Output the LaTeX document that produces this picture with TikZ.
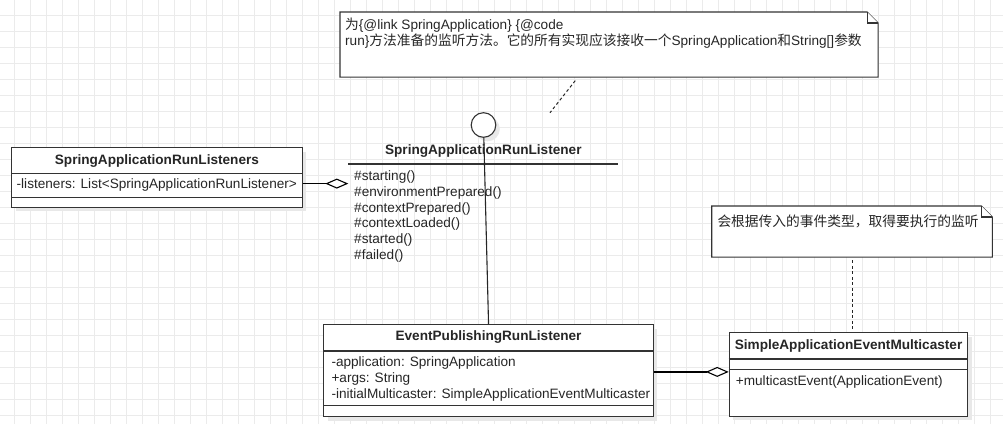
\documentclass[tikz,border=0pt]{standalone}
\usepackage{fontspec}
\setmainfont{Liberation Sans}
\newfontfamily\zhfont[Scale=1.01]{Noto Sans CJK SC}
\usetikzlibrary{positioning, shapes, arrows.meta, shadows}

\begin{document}
\begin{tikzpicture}[x=1pt, y=-1pt,
    every node/.style={text=black!85, inner sep=0pt, font=\fontsize{13.6}{15.8}\selectfont},
    shadowed/.style={drop shadow={shadow xshift=4pt, shadow yshift=-4pt, fill=black!9, draw=none, opacity=1}},
    classbox/.style={draw=black!80, line width=1.1pt, fill=white, anchor=north west, shadowed},
    classname/.style={font=\bfseries\fontsize{13.6}{15.8}\selectfont, anchor=base},
    members/.style={align=left, anchor=north west},
    sepline/.style={draw=black!80, line width=1.1pt},
    notebody/.style={anchor=north west},
    notedraw/.style={draw=black!80, line width=1.1pt, fill=white},
    aggr/.style={draw=black, line width=1.4pt, -{Diamond[fill=white, length=23pt, width=10pt, line width=1.1pt]}},
    notelink/.style={draw=black!85, line width=1pt, dash pattern=on 3pt off 2.5pt}]
    \useasboundingbox (0,0) rectangle (1003,424);
    \fill[white] (0,0) rectangle (1003,424);
    \draw[black!8, line width=1pt, step=16pt, xshift=14pt, yshift=-15pt] (-14,409) grid (989,-15);

    % notes
    \node[notebody, minimum width=537.7pt, minimum height=64.7pt] (nspec) at (340,12) {};
    \draw[notedraw] (nspec.north west) -- ([xshift=-11pt]nspec.north east) -- ([yshift=-11pt]nspec.north east) -- (nspec.south east) -- (nspec.south west) -- cycle;
    \draw[notedraw] ([xshift=-11pt]nspec.north east) |- ([yshift=-11pt]nspec.north east);
    \node[members, below right=5.5pt and 5pt of nspec.north west] (nspectext) {{\zhfont 为}\{@link SpringApplication\} \{@code\\
        run\}{\zhfont 方法准备的监听方法。它的所有实现应该接收一个}SpringApplication{\zhfont 和}String[]{\zhfont 参数}};

    \node[notebody, minimum width=280.3pt, minimum height=50.7pt] (nmulti) at (711.7,206) {};
    \draw[notedraw] (nmulti.north west) -- ([xshift=-11pt]nmulti.north east) -- ([yshift=-11pt]nmulti.north east) -- (nmulti.south east) -- (nmulti.south west) -- cycle;
    \draw[notedraw] ([xshift=-11pt]nmulti.north east) |- ([yshift=-11pt]nmulti.north east);
    \node[members, below right=8.2pt and 5.6pt of nmulti.north west] (nmultitext) {\zhfont 会根据传入的事件类型，取得要执行的监听};

    % interface
    \node[circle, draw=black!80, line width=1.1pt, fill=white, minimum size=24.6pt, shadowed] (srl) at (483.5,125) {};
    \node[classname] (srlname) at (483.3,154.5) {SpringApplicationRunListener};
    \coordinate (srlleft) at (348.3,164);
    \coordinate (srlagg) at (348.3,183.6);
    \coordinate (srltop) at (550,112.7);
    \draw[sepline] (srlleft) -- ++(269.4,0);
    \node[members, below right=6.5pt and 5.7pt of srlleft] (srlops) {\#starting()\\\#environmentPrepared()\\\#contextPrepared()\\\#contextLoaded()\\\#started()\\\#failed()};

    % classes
    \node[classbox, minimum width=290.7pt, minimum height=59.4pt] (lst) at (11,147.3) {};
    \node[classname] (lstname) at ([yshift=-16.8pt]lst.north) {SpringApplicationRunListeners};
    \draw[sepline] ([yshift=-26pt]lst.north west) -- ([yshift=-26pt]lst.north east);
    \draw[sepline] ([yshift=-50.4pt]lst.north west) -- ([yshift=-50.4pt]lst.north east);
    \node[anchor=base west] (lstattr) at ([xshift=5.5pt, yshift=-41.2pt]lst.north west) {-listeners: List<SpringApplicationRunListener>};

    \node[classbox, minimum width=329.4pt, minimum height=91.7pt] (eprl) at (323.3,324.3) {};
    \node[classname] (eprlname) at ([yshift=-16.5pt]eprl.north) {EventPublishingRunListener};
    \draw[sepline] ([yshift=-26.7pt]eprl.north west) -- ([yshift=-26.7pt]eprl.north east);
    \draw[sepline] ([yshift=-81.4pt]eprl.north west) -- ([yshift=-81.4pt]eprl.north east);
    \node[members, below right=32.6pt and 8pt of eprl.north west] (eprlattr) {-application: SpringApplication\\+args: String\\-initialMulticaster: SimpleApplicationEventMulticaster};
    \coordinate (eprlagg) at ([yshift=-47.6pt]eprl.north east);

    \node[classbox, minimum width=238.6pt, minimum height=83.4pt] (saem) at (728.7,332.3) {};
    \node[classname] (saemname) at ([yshift=-17.5pt]saem.north) {SimpleApplicationEventMulticaster};
    \draw[sepline] ([yshift=-26.7pt]saem.north west) -- ([yshift=-26.7pt]saem.north east);
    \draw[sepline] ([yshift=-37pt]saem.north west) -- ([yshift=-37pt]saem.north east);
    \node[anchor=base west] (saemops) at ([xshift=7pt, yshift=-53.5pt]saem.north west) {+multicastEvent(ApplicationEvent)};

    % links
    \draw[line width=1.1pt, draw=black!85] (srl) -- (eprl.north);
    \draw[aggr] (lst.east |- srlagg) -- (srlagg);
    \draw[aggr] (eprlagg) -- (eprlagg -| saem.west);
    \draw[notelink, shorten <=4.5pt] ([xshift=-31pt]nspec.south) -- (srltop);
    \draw[notelink, shorten <=3.3pt, shorten >=1.3pt] (nmulti.south) -- (nmulti.south |- saem.north);
\end{tikzpicture}
\end{document}
